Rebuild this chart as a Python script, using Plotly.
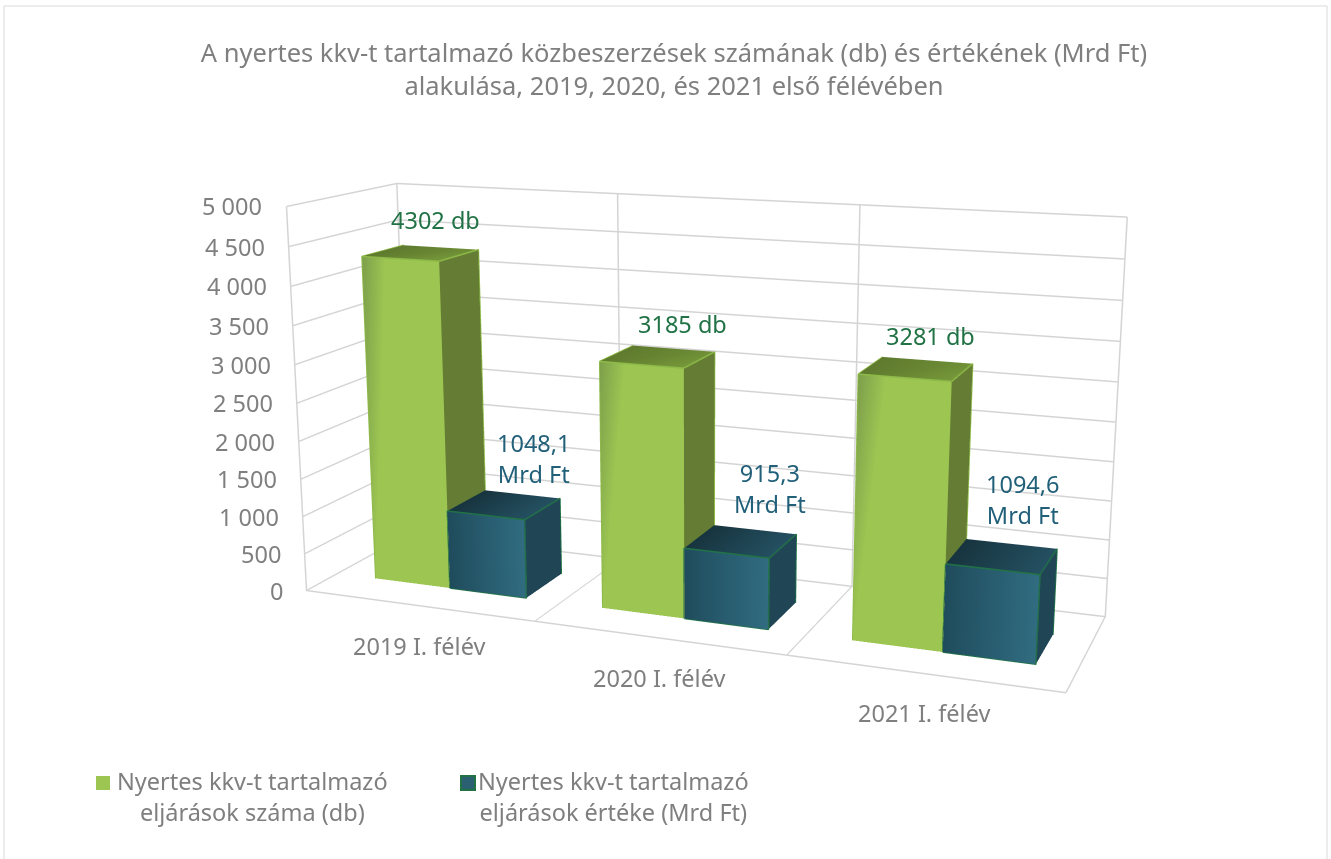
import plotly.graph_objects as go

categories = ["2019 I. félév", "2020 I. félév", "2021 I. félév"]
count_values = [4302, 3185, 3281]
amount_values = [1048.1, 915.3, 1094.6]
count_labels = ["4302 db", "3185 db", "3281 db"]
amount_labels = ["1048,1<br>Mrd Ft", "915,3<br>Mrd Ft", "1094,6<br>Mrd Ft"]
z_ticks = [0, 500, 1000, 1500, 2000, 2500, 3000, 3500, 4000, 4500, 5000]
z_tick_text = ["0", "500", "1 000", "1 500", "2 000", "2 500", "3 000", "3 500", "4 000", "4 500", "5 000"]
series_names = ["Nyertes kkv-t tartalmazó<br>eljárások száma (db)", "Nyertes kkv-t tartalmazó<br>eljárások értéke (Mrd Ft)"]
title_text = "A nyertes kkv-t tartalmazó közbeszerzések számának (db) és értékének (Mrd Ft)<br>alakulása, 2019, 2020, és 2021 első félévében"

GRAY = "#7f7f7f"
FONT = "Noto Sans"
FS = 23.5
Y0, Y1 = 0.28, 0.67
W = 0.337
START = 0.178
count_shift = [(15, 33), (25, 33), (14, 33)]
amount_shift = [(30, 46), (29, 53), (21, 57)]
# Page is larger than the window so that the fixed 45 degree lens of the 3D scene gives the flat perspective of the reference
PW, PH, TOP = 1392, 1559, 350


def px(x):
    return x / PW


def py(y):
    return 1 - (y + TOP) / PH


def box(x0, x1, h, face_cols, edge, name):
    xs, ys, zs, i, j, k, vc = [], [], [], [], [], [], []

    def quad(pts, cols):
        n = len(xs)
        for p, c in zip(pts, cols):
            xs.append(p[0]); ys.append(p[1]); zs.append(p[2]); vc.append(c)
        i.extend([n, n]); j.extend([n + 1, n + 2]); k.extend([n + 2, n + 3])

    xm = x0 + face_cols["split"] * (x1 - x0)
    quad([(x0, Y0, 0), (xm, Y0, 0), (xm, Y0, h), (x0, Y0, h)], face_cols["front_a"])
    quad([(xm, Y0, 0), (x1, Y0, 0), (x1, Y0, h), (xm, Y0, h)], face_cols["front_b"])
    quad([(x1, Y0, 0), (x1, Y1, 0), (x1, Y1, h), (x1, Y0, h)], face_cols["side"])
    quad([(x0, Y0, h), (x1, Y0, h), (x1, Y1, h), (x0, Y1, h)], face_cols["top"])
    mesh = go.Mesh3d(x=xs, y=ys, z=zs, i=i, j=j, k=k, vertexcolor=vc, name=name,
                     flatshading=True, showscale=False, hoverinfo="skip",
                     lighting=dict(ambient=1, diffuse=0, specular=0, roughness=1, fresnel=0))
    ex = [x0, x1, x1, x0, x0, None, x1, x1, x1, x1, None, x0, x0, None, x1, x1]
    ey = [Y0, Y0, Y0, Y0, Y0, None, Y0, Y1, Y1, Y1, None, Y0, Y1, None, Y0, Y0]
    ez = [0, 0, h, h, 0, None, h, h, 0, h, None, h, h, None, 0, 0]
    if face_cols["outline_bottom"] is False:
        ex, ey, ez = ex[2:], ey[2:], ez[2:]
    line = go.Scatter3d(x=ex, y=ey, z=ez, mode="lines", line=dict(color=edge, width=3),
                        hoverinfo="skip", showlegend=False)
    return [mesh, line]


GREEN = dict(split=0.3, outline_bottom=False,
             front_a=["#9cc552", "#9cc552", "#9cc552", "#7d9f4b"],
             front_b=["#9cc552"] * 4,
             side=["#647c33"] * 4,
             top=["#5f7a2e", "#78993b", "#6f8f36", "#5f7a2e"])
BLUE = dict(split=0.5, outline_bottom=True,
            front_a=["#1f4c5c", "#285c6f", "#285c6f", "#1f4c5c"],
            front_b=["#285c6f", "#316c81", "#316c81", "#285c6f"],
            side=["#204656"] * 4,
            top=["#17343f", "#245061", "#245061", "#17343f"])

traces = []
for idx, cat in enumerate(categories):
    traces += box(idx + START, idx + START + W, count_values[idx], GREEN, "#8dba48", series_names[0])
    traces += box(idx + START + W, idx + START + 2 * W, amount_values[idx], BLUE, "#217346", series_names[1])

mid = (Y0 + Y1) / 2
scene_ann = []
for idx, cat in enumerate(categories):
    scene_ann.append(dict(x=idx + 0.5, y=0, z=0, text=cat, showarrow=False, xshift=1, yshift=-40,
                          font=dict(family=FONT, size=FS, color=GRAY)))
    scene_ann.append(dict(x=idx + START + W / 2, y=mid, z=count_values[idx], text=count_labels[idx], showarrow=False,
                          xshift=count_shift[idx][0], yshift=count_shift[idx][1],
                          font=dict(family=FONT, size=FS, color="#217346")))
    scene_ann.append(dict(x=idx + START + 1.5 * W, y=mid, z=amount_values[idx], text=amount_labels[idx], showarrow=False,
                          xshift=amount_shift[idx][0], yshift=amount_shift[idx][1],
                          font=dict(family=FONT, size=FS, color="#22607a")))
for t, s in zip(z_ticks, z_tick_text):
    scene_ann.append(dict(x=0, y=0, z=t, text=s, showarrow=False, xanchor="right", xshift=-22,
                          font=dict(family=FONT, size=FS, color=GRAY)))

axis_common = dict(showbackground=False, showspikes=False, zeroline=False, title=dict(text=""),
                   gridcolor="#d4d4d4", gridwidth=3, linecolor="#d4d4d4", linewidth=3, showline=True,
                   showticklabels=False, ticks="")

fig = go.Figure(traces)
fig.update_layout(
    width=PW, height=PH, margin=dict(l=0, r=0, t=0, b=0), paper_bgcolor="white", showlegend=False,
    title=dict(text=title_text, xref="paper", yref="paper", x=px(674), y=py(62), xanchor="center", yanchor="middle",
               font=dict(family=FONT, size=25.5, color=GRAY)),
    scene=dict(
        domain=dict(x=[0, 1], y=[0, 1]),
        aspectmode="manual", aspectratio=dict(x=1, y=0.275, z=0.507),
        camera=dict(projection=dict(type="perspective"), eye=dict(x=0.827, y=-2.155, z=0.547),
                    center=dict(x=-0.002, y=-0.001, z=-0.022), up=dict(x=0, y=0, z=1)),
        xaxis=dict(axis_common, range=[0, 3], tickvals=[0, 1, 2, 3]),
        yaxis=dict(axis_common, range=[0, 1], showgrid=False),
        zaxis=dict(axis_common, range=[0, 5000], tickvals=z_ticks),
        annotations=scene_ann,
    ),
    shapes=[
        dict(type="rect", xref="paper", yref="paper", x0=px(4), x1=px(1327), y0=py(900), y1=py(6), line=dict(color="#d9d9d9", width=1)),
        dict(type="rect", xref="paper", yref="paper", x0=px(96), x1=px(110), y0=py(790), y1=py(776), fillcolor="#9cc552", line=dict(width=0)),
        dict(type="rect", xref="paper", yref="paper", x0=px(461), x1=px(475), y0=py(790), y1=py(776), fillcolor="#2a6072", line=dict(color="#217346", width=2)),
    ],
    annotations=[
        dict(xref="paper", yref="paper", x=px(252), y=py(796), xanchor="center", yanchor="middle", text=series_names[0], showarrow=False, align="center",
             font=dict(family=FONT, size=FS, color=GRAY)),
        dict(xref="paper", yref="paper", x=px(613), y=py(796), xanchor="center", yanchor="middle", text=series_names[1], showarrow=False, align="center",
             font=dict(family=FONT, size=FS, color=GRAY)),
    ],
)
fig.write_html("out.html", config={"displayModeBar": False}, post_script=(
    "document.documentElement.style.overflow='hidden';"
    "document.body.style.cssText='margin:0;height:859px;width:1331px;overflow:hidden;position:relative';"
    "var g=document.querySelector('.plotly-graph-div');g.style.position='absolute';g.style.left='0';g.style.top='-%dpx';" % TOP))
